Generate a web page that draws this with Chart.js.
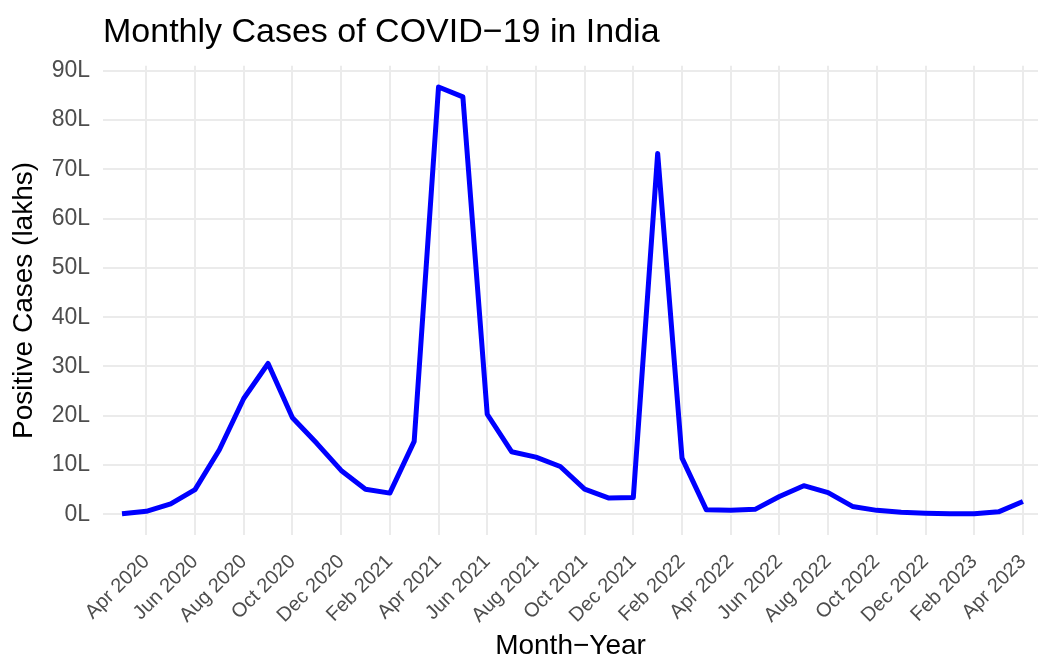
<!DOCTYPE html>
<html>
<head>
<meta charset="utf-8">
<title>Monthly Cases of COVID−19 in India</title>
<script src="https://cdn.jsdelivr.net/npm/chart.js@4.4.1/dist/chart.umd.min.js"></script>
<style>
  html, body { margin: 0; padding: 0; background: #ffffff; }
</style>
</head>
<body>
<canvas id="casesChart" width="1038" height="657"></canvas>
<script>
// monthly positive cases, in lakhs
const months = [
    'Mar 2020', 'Apr 2020', 'May 2020', 'Jun 2020', 'Jul 2020', 'Aug 2020', 'Sep 2020', 'Oct 2020', 'Nov 2020', 'Dec 2020',
    'Jan 2021', 'Feb 2021', 'Mar 2021', 'Apr 2021', 'May 2021', 'Jun 2021', 'Jul 2021', 'Aug 2021', 'Sep 2021', 'Oct 2021', 'Nov 2021', 'Dec 2021',
    'Jan 2022', 'Feb 2022', 'Mar 2022', 'Apr 2022', 'May 2022', 'Jun 2022', 'Jul 2022', 'Aug 2022', 'Sep 2022', 'Oct 2022', 'Nov 2022', 'Dec 2022',
    'Jan 2023', 'Feb 2023', 'Mar 2023', 'Apr 2023'
];
const cases = [
    0.1, 0.6, 2.1, 5.0, 13.1, 23.5, 30.6, 19.6, 14.4, 8.9,
    5.1, 4.3, 14.8, 86.7, 84.7, 20.3, 12.7, 11.6, 9.7, 5.1, 3.3, 3.4,
    73.2, 11.4, 0.9, 0.8, 1.0, 3.6, 5.8, 4.4, 1.6, 0.8, 0.4, 0.2,
    0.1, 0.1, 0.5, 2.6
];
const xTickLabels = [
    'Apr 2020', 'Jun 2020', 'Aug 2020', 'Oct 2020', 'Dec 2020', 'Feb 2021', 'Apr 2021', 'Jun 2021', 'Aug 2021', 'Oct 2021',
    'Dec 2021', 'Feb 2022', 'Apr 2022', 'Jun 2022', 'Aug 2022', 'Oct 2022', 'Dec 2022', 'Feb 2023', 'Apr 2023'
];
const yTicks = [0, 10, 20, 30, 40, 50, 60, 70, 80, 90];

const fontFamily = '"Liberation Sans", Arial, Helvetica, sans-serif';
const gridColor = '#ebebeb';
const tickColor = '#4d4d4d';

let ctx = document.getElementById('casesChart').getContext('2d');
let casesChart = new Chart(ctx, {
    type: 'line',
    data: {
        datasets: [{
            label: 'Positive Cases',
            data: cases.map((v, i) => ({ x: i, y: v })),
            borderColor: '#0000ff',
            borderWidth: 5,
            borderJoinStyle: 'round',
            borderCapStyle: 'butt',
            pointRadius: 0,
            tension: 0,
            fill: false
        }]
    },
    options: {
        responsive: false,
        animation: false,
        layout: { padding: 0 },
        scales: {
            x: {
                type: 'linear',
                min: -0.78,
                max: 37.62,
                afterBuildTicks: scale => {
                    scale.ticks = xTickLabels.map(l => ({ value: months.indexOf(l) }));
                },
                afterFit: scale => {
                    scale.height = 122;
                    scale.paddingLeft = 0;
                    scale.paddingRight = 0;
                },
                grid: { color: gridColor, lineWidth: 2, drawTicks: false },
                border: { display: false },
                ticks: {
                    autoSkip: false,
                    minRotation: 45,
                    maxRotation: 45,
                    padding: 15,
                    color: tickColor,
                    font: { family: fontFamily, size: 20 },
                    callback: value => months[value]
                },
                title: {
                    display: true,
                    text: 'Month−Year',
                    color: '#000000',
                    padding: 0,
                    font: { family: fontFamily, size: 28, lineHeight: 0.8 }
                }
            },
            y: {
                min: -4.2,
                max: 91,
                afterBuildTicks: scale => {
                    scale.ticks = yTicks.map(v => ({ value: v }));
                },
                afterFit: scale => { scale.width = 103; },
                grid: { color: gridColor, lineWidth: 2, drawTicks: false },
                border: { display: false },
                ticks: {
                    padding: 13,
                    color: tickColor,
                    font: { family: fontFamily, size: 23 },
                    callback: value => value + 'L'
                },
                title: {
                    display: true,
                    text: 'Positive Cases (lakhs)',
                    color: '#000000',
                    padding: { top: 7, bottom: 0 },
                    font: { family: fontFamily, size: 28 }
                }
            }
        },
        plugins: {
            legend: { display: false },
            tooltip: { enabled: false },
            title: {
                display: true,
                text: 'Monthly Cases of COVID−19 in India',
                align: 'start',
                fullSize: false,
                color: '#000000',
                padding: { top: 12, bottom: 13 },
                font: { family: fontFamily, size: 34, weight: 'normal' }
            }
        }
    }
});
</script>
</body>
</html>
